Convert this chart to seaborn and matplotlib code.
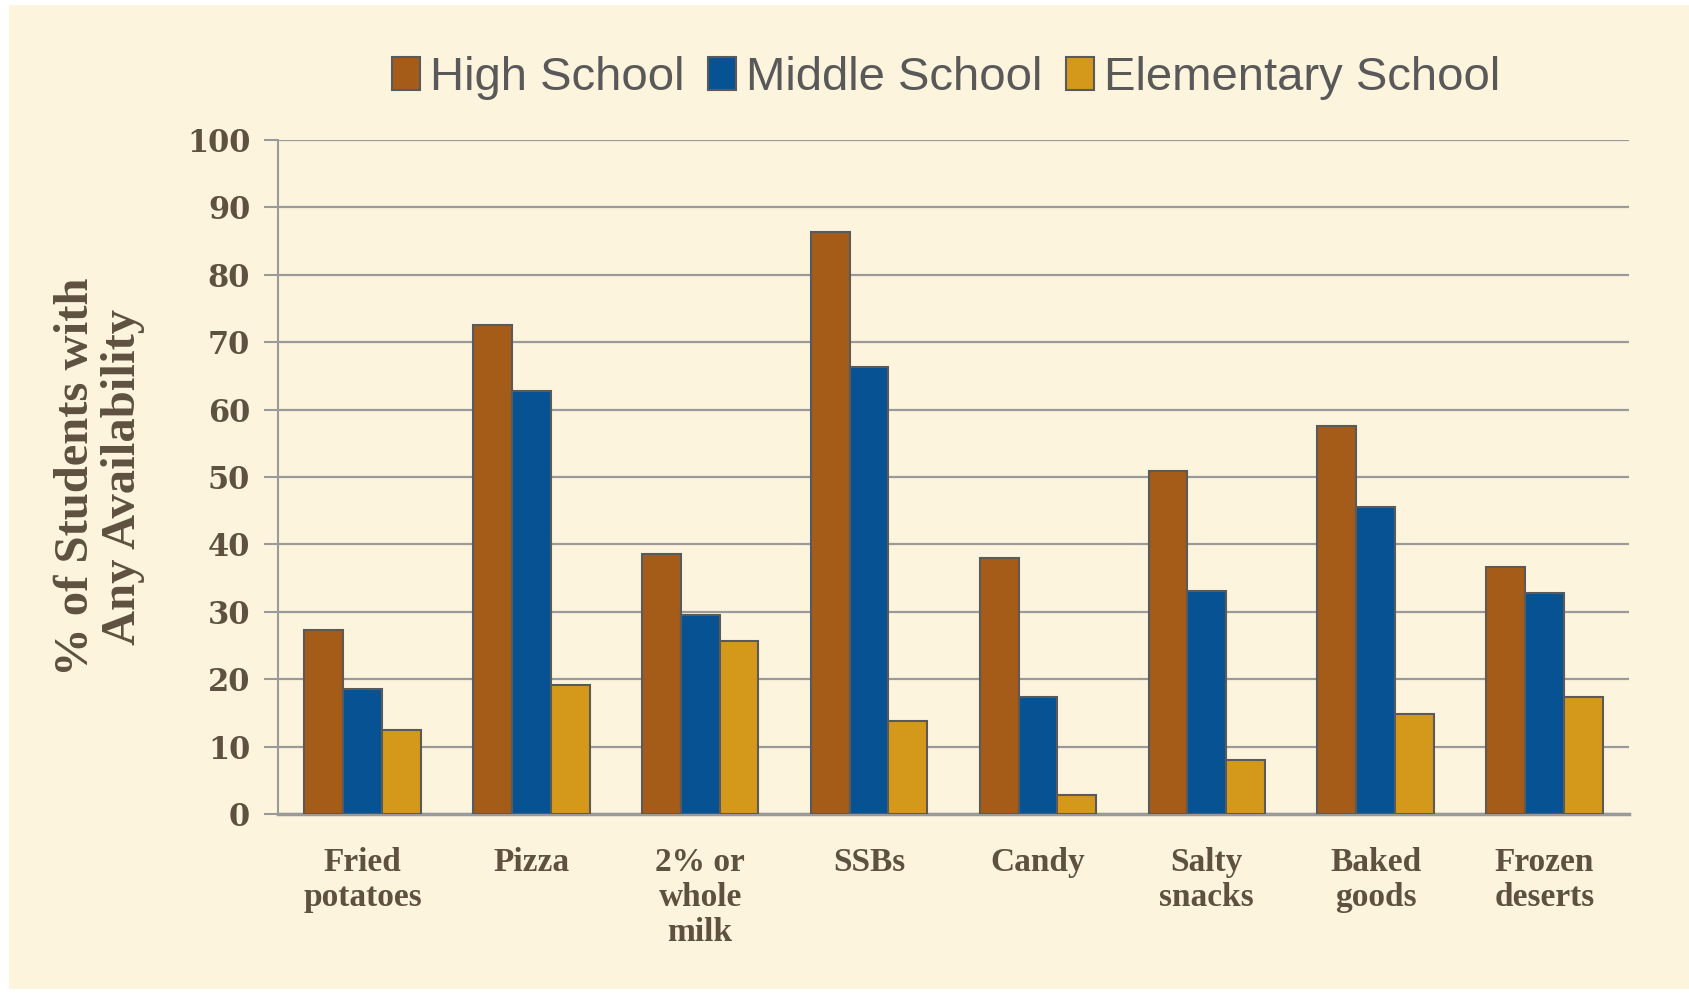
import matplotlib
matplotlib.use("Agg")
import matplotlib.pyplot as plt
import matplotlib.patches as mpatches
import seaborn as sns
import pandas as pd

categories = ["Fried\npotatoes", "Pizza", "2% or\nwhole\nmilk", "SSBs", "Candy",
              "Salty\nsnacks", "Baked\ngoods", "Frozen\ndeserts"]
series_names = ["High School", "Middle School", "Elementary School"]
high_school = [27.3, 72.5, 38.6, 86.3, 38.0, 50.9, 57.5, 36.6]
middle_school = [18.6, 62.8, 29.5, 66.3, 17.4, 33.1, 45.6, 32.8]
elementary_school = [12.5, 19.2, 25.6, 13.8, 2.8, 8.0, 14.9, 17.3]
y_ticks = [0, 10, 20, 30, 40, 50, 60, 70, 80, 90, 100]

colors = ["#A65C19", "#075293", "#D4991B"]
bg = "#FDF4DE"
text_col = "#5E5140"

rows = []
for name, vals in zip(series_names, [high_school, middle_school, elementary_school]):
    for c, v in zip(categories, vals):
        rows.append({"category": c, "school": name, "value": v})
df = pd.DataFrame(rows)

sns.set_style("white")
fig = plt.figure(figsize=(16.89, 9.93), dpi=100)
fig.patch.set_facecolor("white")
fig.patches.append(mpatches.Rectangle((9 / 1689, 4 / 993), 1 - 9 / 1689, 1 - 9 / 993,
                                      transform=fig.transFigure, facecolor=bg,
                                      edgecolor="none", zorder=-10))
ax = fig.add_axes([278 / 1689, 1 - 814 / 993, (1629 - 278) / 1689, (814 - 140) / 993])
ax.set_facecolor(bg)

sns.barplot(data=df, x="category", y="value", hue="school", hue_order=series_names,
            order=categories, palette=colors, width=0.69, ax=ax,
            edgecolor="#5A5A5A", linewidth=1.5, saturation=1, errorbar=None, zorder=3)

ax.set_ylim(0, 100)
ax.set_xlim(-0.5, len(categories) - 0.5)
ax.set_yticks(y_ticks)
ax.yaxis.grid(True, color="#9A9A9A", linewidth=1.6, zorder=0)
ax.set_axisbelow(True)
for s in ["top", "right"]:
    ax.spines[s].set_visible(False)
ax.spines["left"].set_color("#9A9A9A")
ax.spines["left"].set_linewidth(1.5)
ax.spines["bottom"].set_color("#9A9A9A")
ax.spines["bottom"].set_linewidth(2.5)
ax.tick_params(axis="y", which="major", left=True, length=10, width=1.5, color="#9A9A9A",
               pad=10)
ax.tick_params(axis="x", length=0, pad=24)

serif = ["Liberation Serif", "DejaVu Serif"]
for lab in ax.get_yticklabels():
    lab.set_fontfamily(["DejaVu Serif"])
    lab.set_fontweight("bold")
    lab.set_fontsize(22)
    lab.set_color(text_col)
for lab in ax.get_xticklabels():
    lab.set_fontfamily(serif)
    lab.set_fontweight("bold")
    lab.set_fontsize(24)
    lab.set_color(text_col)
    lab.set_linespacing(1.15)
    lab.set_verticalalignment("top")

ax.set_xlabel("")
ax.set_ylabel("% of Students with\nAny Availability", fontfamily=serif, fontweight="bold",
              fontsize=35, color=text_col, labelpad=30, linespacing=1.1)

ax.get_legend().remove()
handles = [mpatches.Patch(facecolor=c, edgecolor="#5A5A5A", linewidth=1.5) for c in colors]
fig.legend(handles, series_names, loc="center", bbox_to_anchor=(946 / 1689, 1 - 78 / 993),
           ncol=3, frameon=False, prop={"family": ["Liberation Sans", "DejaVu Sans"], "size": 34},
           labelcolor="#595959", handlelength=0.6, handleheight=0.7, handletextpad=0.2,
           columnspacing=0.5)

fig.savefig("out.png", dpi=100, facecolor=fig.get_facecolor())
